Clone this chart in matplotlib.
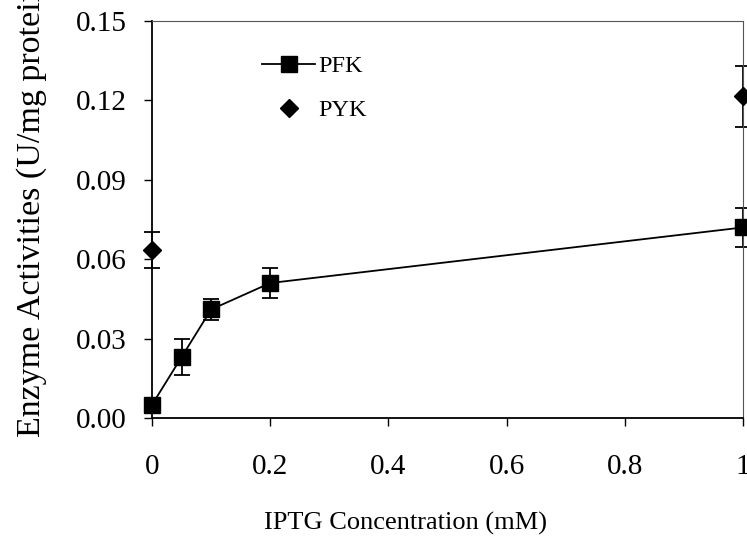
import matplotlib
matplotlib.use('Agg')
import matplotlib.pyplot as plt
import numpy as np

plt.rcParams['font.family'] = 'Liberation Serif'

# data
iptg_pfk = [0, 0.05, 0.1, 0.2, 1.0]
pfk = [0.005, 0.023, 0.041, 0.051, 0.072]
pfk_err = [0.002, 0.0068, 0.004, 0.0055, 0.0075]

iptg_pyk = [0, 1.0]
pyk = [0.0635, 0.1215]
pyk_err = [0.0068, 0.0115]

xticks = [0, 0.2, 0.4, 0.6, 0.8, 1]
xtick_labels = ['0', '0.2', '0.4', '0.6', '0.8', '1']
yticks = [0, 0.03, 0.06, 0.09, 0.12, 0.15]

W, H = 747, 544
fig = plt.figure(figsize=(W / 100, H / 100), dpi=100)
ax = fig.add_axes([152 / W, 1 - 418 / H, (743 - 152) / W, (418 - 21) / H])

# error bars first, then lines/markers on top
ax.errorbar(iptg_pfk, pfk, yerr=pfk_err, fmt='none', ecolor='black',
            elinewidth=1.3, capsize=6, capthick=1.3, clip_on=False)
ax.errorbar(iptg_pyk, pyk, yerr=pyk_err, fmt='none', ecolor='black',
            elinewidth=1.3, capsize=6, capthick=1.3, clip_on=False)
l1, = ax.plot(iptg_pfk, pfk, color='black', lw=1.3, marker='s', markersize=11.5,
              label='PFK', clip_on=False, zorder=4)
l2, = ax.plot(iptg_pyk, pyk, color='black', lw=0, marker='D', markersize=9.5,
              label='PYK', clip_on=False, zorder=4)

ax.set_xlim(0, 1)
ax.set_ylim(0, 0.15)
ax.set_xticks(xticks)
ax.set_xticklabels(xtick_labels)
ax.set_yticks(yticks)
ax.set_yticklabels(['%.2f' % v for v in yticks])
ax.tick_params(axis='both', direction='out', length=6, width=1, labelsize=21)
ax.tick_params(axis='x', pad=20)
ax.tick_params(axis='y', pad=12)

for s in ['top', 'right']:
    ax.spines[s].set_color('#555555')
    ax.spines[s].set_linewidth(0.8)
for s in ['left', 'bottom']:
    ax.spines[s].set_color('black')
    ax.spines[s].set_linewidth(1.3)

ax.legend(handles=[l1, l2], loc='upper left', frameon=False, fontsize=17.5,
          bbox_to_anchor=(262 / W, 1 - 55 / H), bbox_transform=fig.transFigure,
          borderpad=0, borderaxespad=0, handlelength=2.2, handletextpad=0.12,
          labelspacing=0.92)

fig.text(405 / W, 1 - 523 / H, 'IPTG Concentration (mM)', fontsize=19,
         ha='center', va='center')
fig.text(32 / W, 1 - 437 / H, 'Enzyme Activities (U/mg protein)', fontsize=24.5,
         rotation=90, ha='center', va='bottom')

fig.savefig('out.png', dpi=100)
